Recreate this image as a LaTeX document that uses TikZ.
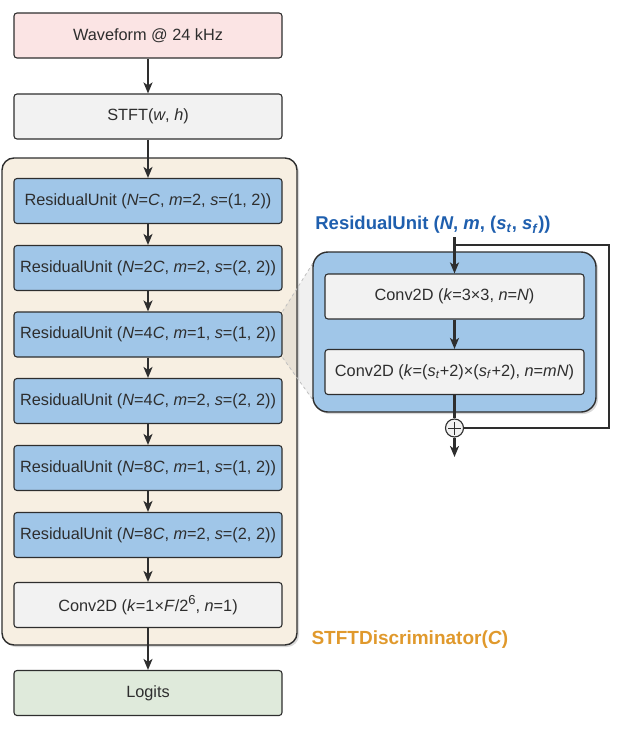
\documentclass[tikz,border=0pt]{standalone}
\usepackage{fontspec}
\setmainfont{Liberation Sans}
\usepackage{tikz}
\usetikzlibrary{arrows.meta,shadows}
\definecolor{linec}{HTML}{2E2E2E}
\definecolor{wavec}{HTML}{FBE4E4}
\definecolor{grayc}{HTML}{F2F2F2}
\definecolor{beigec}{HTML}{F7EFE2}
\definecolor{bluec}{HTML}{A0C6E8}
\definecolor{greenc}{HTML}{DFEADB}
\definecolor{orangec}{HTML}{E0992C}
\definecolor{titlec}{HTML}{1F5FAE}
\newcommand{\vi}[1]{\textit{#1}}
\newcommand{\sixup}{\raisebox{.42em}{\fontsize{13}{13}\selectfont 6}}
\tikzset{
  blk/.style={draw=linec, line width=1.1pt, rounded corners=3pt, minimum width=268pt,
    minimum height=45pt, inner sep=0pt, text=linec, font=\fontsize{16.3}{19}\selectfont},
  wavebox/.style={blk, fill=wavec},
  stftbox/.style={blk, fill=grayc},
  resbox/.style={blk, fill=bluec},
  logitbox/.style={blk, fill=greenc},
  convbox/.style={blk, fill=grayc, minimum width=259pt},
  arr/.style={draw=linec, line width=2.2pt, -{Stealth[length=11pt,width=9pt,inset=3pt]}},
  skipline/.style={draw=linec, line width=2.2pt},
  shade/.style={drop shadow={opacity=.3, shadow xshift=2pt, shadow yshift=-2pt}}
}

\begin{document}
\begin{tikzpicture}[x=1pt, y=-1pt]
      \useasboundingbox (0,0) rectangle (630,736);
      % discriminator frame
      \node [draw=linec, line width=1.4pt, fill=beigec, rounded corners=12pt, shade,
        minimum width=295pt, minimum height=487pt] (disc) at (149.5,401.5) {};
      \node [wavebox] (wave) at (148,35.5) {Waveform @ 24 kHz};
      \node [stftbox] (stft) at (148,116.5) {STFT(\vi{w}, \vi{h})};
      \node [resbox] (ru1) at (148,201) {ResidualUnit (\vi{N}=\vi{C}, \vi{m}=2, \vi{s}=(1, 2))};
      \node [resbox] (ru2) at (148,268) {ResidualUnit (\vi{N}=2\vi{C}, \vi{m}=2, \vi{s}=(2, 2))};
      \node [resbox] (ru3) at (148,334.5) {ResidualUnit (\vi{N}=4\vi{C}, \vi{m}=1, \vi{s}=(1, 2))};
      \node [resbox] (ru4) at (148,401) {ResidualUnit (\vi{N}=4\vi{C}, \vi{m}=2, \vi{s}=(2, 2))};
      \node [resbox] (ru5) at (148,468) {ResidualUnit (\vi{N}=8\vi{C}, \vi{m}=1, \vi{s}=(1, 2))};
      \node [resbox] (ru6) at (148,535) {ResidualUnit (\vi{N}=8\vi{C}, \vi{m}=2, \vi{s}=(2, 2))};
      \node [stftbox] (conv) at (148,605) {Conv2D (\vi{k}=1×\vi{F}/2\sixup, \vi{n}=1)};
      \node [logitbox] (logits) at (148,693) {Logits};
      \node [anchor=west, text=orangec, font=\bfseries\fontsize{19}{22}\selectfont] (disclbl)
        at (308,640) {STFTDiscriminator(\vi{C})};
      \draw [arr] (wave) -- (stft);
      \draw [arr] (stft) -- (ru1);
      \draw [arr] (ru1) -- (ru2);
      \draw [arr] (ru2) -- (ru3);
      \draw [arr] (ru3) -- (ru4);
      \draw [arr] (ru4) -- (ru5);
      \draw [arr] (ru5) -- (ru6);
      \draw [arr] (ru6) -- (conv);
      \draw [arr] (conv) -- (logits);
      % zoom onto the unit
      \coordinate (zt) at (313,263);
      \coordinate (zb) at (313,400);
      \fill [gray, opacity=.12] (ru3.north east) -- (zt) -- (zb) -- (ru3.south east) -- cycle;
      \draw [gray!50, dashed, line width=.8pt] (ru3.north east) -- (zt);
      \draw [gray!50, dashed, line width=.8pt] (ru3.south east) -- (zb);
      % residual unit detail
      \node [draw=linec, line width=1.4pt, fill=bluec, rounded corners=15pt, shade,
        minimum width=283pt, minimum height=160pt] (rubox) at (454.5,332) {};
      \node [text=titlec, font=\bfseries\fontsize{18.5}{22}\selectfont] (rutitle) at (433,225)
        {ResidualUnit (\vi{N}, \vi{m}, (\vi{s}\textsubscript{\vi{t}}, \vi{s}\textsubscript{\vi{f}}))};
      \node [convbox] (c1) at (454.5,296.5) {Conv2D (\vi{k}=3×3, \vi{n}=\vi{N})};
      \node [convbox] (c2) at (454.5,372)
        {Conv2D (\vi{k}=(\vi{s}\textsubscript{\vi{t}}+2)×(\vi{s}\textsubscript{\vi{f}}+2), \vi{n}=\vi{m}\vi{N})};
      \node [draw=linec, line width=1.1pt, fill=grayc, circle, minimum size=18pt, inner sep=0pt] (plus) at (454.5,428) {};
      \draw [linec, line width=1pt] ([xshift=-6.5pt]plus.center) -- ([xshift=6.5pt]plus.center);
      \draw [linec, line width=1pt] ([yshift=-6.5pt]plus.center) -- ([yshift=6.5pt]plus.center);
      \coordinate (rin) at (454.5,237);
      \coordinate (split) at (454.5,245);
      \coordinate (skipr) at (609,245);
      \coordinate (rout) at (454.5,457);
      \draw [arr] (rin) -- (c1);
      \draw [arr] (c1) -- (c2);
      \draw [skipline] (c2) -- (plus);
      \draw [skipline] (split) -- (skipr) |- (plus);
      \draw [arr] (plus) -- (rout);
\end{tikzpicture}
\end{document}
